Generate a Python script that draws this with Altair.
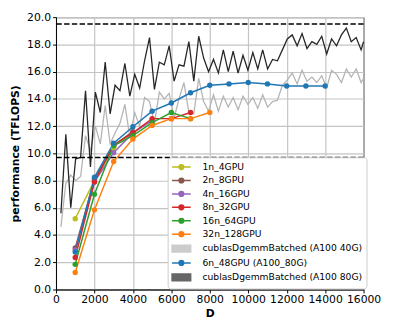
import altair as alt
import pandas as pd

# ---------------- data ----------------
D_RUNS = [1000, 2000, 3000, 4000, 5000, 6000, 7000, 8000, 9000, 10000, 11000, 12000, 13000, 14000]

perf_1n_4GPU = [5.2, 8.0, 10.4]
perf_2n_8GPU = [3.05, 8.1, 10.6, 11.6]
perf_4n_16GPU = [2.9, 7.9, 10.05, 11.5, 12.4]
perf_8n_32GPU = [2.35, 7.9, 10.6, 11.5, 12.55, 12.55, 13.0]
perf_16n_64GPU = [1.85, 7.0, 10.55, 11.3, 12.25, 13.0, 12.55]
perf_32n_128GPU = [1.25, 5.85, 9.4, 11.05, 12.05, 12.55, 12.55, 13.0]
perf_6n_48GPU = [2.75, 8.25, 10.75, 11.95, 13.1, 13.7, 14.45, 15.0, 15.1, 15.2, 15.1, 14.95, 14.95, 14.95]

D_CUBLAS = [256, 512, 768, 1024, 1280, 1536, 1792, 2048, 2304, 2560, 2816, 3072, 3328, 3584,
            3840, 4096, 4352, 4608, 4864, 5120, 5376, 5632, 5888, 6144, 6400, 6656, 6912, 7168,
            7424, 7680, 7936, 8192, 8448, 8704, 8960, 9216, 9472, 9728, 9984, 10240, 10496,
            10752, 11008, 11264, 11520, 11776, 12032, 12288, 12544, 12800, 13056, 13312, 13568,
            13824, 14080, 14336, 14592, 14848, 15104, 15360, 15616, 15872, 16000]

cublas_A100_80G = [5.6, 11.4, 6.0, 9.6, 9.7, 14.6, 9.0, 14.5, 13.0, 16.7, 12.9, 15.0, 14.6, 16.6,
                   14.2, 15.8, 14.8, 16.8, 18.5, 14.7, 16.7, 16.5, 17.9, 15.3, 16.5, 16.4, 18.2, 15.3,
                   18.6, 17.0, 16.0, 16.9, 15.9, 17.6, 16.0, 17.5, 15.9, 17.2, 16.1, 17.4, 16.2,
                   17.6, 16.2, 16.9, 16.8, 17.6, 18.4, 18.7, 17.9, 18.8, 17.7, 18.2, 18.0,
                   18.6, 17.3, 18.4, 17.9, 18.7, 19.2, 18.2, 18.5, 17.6, 18.2]

cublas_A100_40G = [4.6, 7.8, 8.4, 8.0, 8.3, 11.3, 10.2, 12.0, 10.7, 13.5, 10.7, 11.5, 12.2, 13.6,
                   11.2, 13.0, 12.0, 14.1, 13.8, 12.2, 14.5, 14.0, 14.4, 12.6, 14.0, 15.2, 13.0, 12.9,
                   15.5, 13.8, 13.1, 14.3, 13.1, 14.2, 13.4, 14.1, 13.2, 14.2, 13.6, 14.1, 13.3,
                   14.3, 13.4, 13.8, 13.9, 15.0, 15.4, 15.9, 15.1, 16.1, 15.3, 15.6, 15.2,
                   15.7, 14.8, 16.1, 15.8, 15.2, 16.2, 15.6, 16.2, 15.2, 15.5]

PEAKS = [19.5, 9.7]

X_TICKS = [0, 2000, 4000, 6000, 8000, 10000, 12000, 14000, 16000]
Y_TICKS = [0, 2, 4, 6, 8, 10, 12, 14, 16, 18, 20]

LEGEND_ORDER = ["1n_4GPU", "2n_8GPU", "4n_16GPU", "8n_32GPU", "16n_64GPU", "32n_128GPU",
                "cublasDgemmBatched (A100 40G)", "6n_48GPU (A100_80G)",
                "cublasDgemmBatched (A100 80G)"]
LEGEND_COLORS = ["#bcbd22", "#8c564b", "#9467bd", "#d62728", "#2ca02c", "#ff7f0e",
                 "#cccccc", "#1f77b4", "#666666"]

LINE_ORDER = ["cublasDgemmBatched (A100 40G)", "cublasDgemmBatched (A100 80G)",
              "1n_4GPU", "2n_8GPU", "4n_16GPU", "8n_32GPU", "16n_64GPU", "32n_128GPU",
              "6n_48GPU (A100_80G)"]
LINE_COLORS = ["#b4b4b4", "#262626", "#bcbd22", "#8c564b", "#9467bd", "#d62728", "#2ca02c",
               "#ff7f0e", "#1f77b4"]

# ---------------- tables ----------------
run_series = [
    ("1n_4GPU", perf_1n_4GPU), ("2n_8GPU", perf_2n_8GPU), ("4n_16GPU", perf_4n_16GPU),
    ("8n_32GPU", perf_8n_32GPU), ("16n_64GPU", perf_16n_64GPU), ("32n_128GPU", perf_32n_128GPU),
    ("6n_48GPU (A100_80G)", perf_6n_48GPU),
]
rows = []
for name, vals in run_series:
    for d, v in zip(D_RUNS, vals):
        rows.append({"series": name, "D": d, "perf": v})
runs = pd.DataFrame(rows)

crows = []
for name, vals in [("cublasDgemmBatched (A100 40G)", cublas_A100_40G),
                   ("cublasDgemmBatched (A100 80G)", cublas_A100_80G)]:
    for d, v in zip(D_CUBLAS, vals):
        crows.append({"series": name, "D": d, "perf": v})
cublas = pd.DataFrame(crows)

peaks = pd.DataFrame({"perf": PEAKS})
# legend-only rows: no D / perf values, so the marks are dropped as invalid
legend_df = pd.DataFrame({"series": LEGEND_ORDER, "D": [None] * len(LEGEND_ORDER),
                          "perf": [None] * len(LEGEND_ORDER)})

# ---------------- encodings ----------------
FONT = "DejaVu Sans"
x_enc = alt.X("D:Q", scale=alt.Scale(domain=[0, 16000], nice=False, zero=False),
              axis=alt.Axis(values=X_TICKS, format="d", title="D", labelOverlap=False,
                            labelFlush=False))
y_enc = alt.Y("perf:Q", scale=alt.Scale(domain=[0, 20], nice=False),
              axis=alt.Axis(values=Y_TICKS, format=".1f", title="performance (TFLOPS)",
                            labelOverlap=False))
color_scale = alt.Scale(domain=LINE_ORDER, range=LINE_COLORS)

# legend symbol paths (unit box scaled by sqrt(symbolSize)/2 = 5 px)
LINE_SYM = "M-1.9,0H1.9M-0.48,0A0.48,0.48,0,1,0,0.48,0A0.48,0.48,0,1,0,-0.48,0Z"
RECT_SYM = "M-1.9,-0.7H1.9V0.7H-1.9Z"
SHAPES = [LINE_SYM] * 6 + [RECT_SYM, LINE_SYM, RECT_SYM]

cublas_lines = alt.Chart(cublas).mark_line(strokeWidth=1.3).encode(
    x=x_enc, y=y_enc,
    color=alt.Color("series:N", scale=color_scale, legend=None),
)

run_lines = alt.Chart(runs).mark_line(strokeWidth=1.5).encode(
    x=x_enc, y=y_enc,
    color=alt.Color("series:N", scale=color_scale, legend=None),
)

run_points = alt.Chart(runs).mark_point(filled=True, size=30, opacity=1).encode(
    x=x_enc, y=y_enc,
    color=alt.Color("series:N", scale=color_scale, legend=None),
)

peak_rules = alt.Chart(peaks).mark_rule(color="black", strokeWidth=1.5, strokeDash=[5.5, 2.4]).encode(
    y=y_enc,
)

leg = alt.Legend(title=None, orient="none", legendX=114, legendY=143, symbolSize=100,
                 symbolStrokeWidth=1.5, labelFontSize=9.4, labelFont=FONT,
                 fillColor="white", strokeColor="#cccccc", cornerRadius=3, padding=4,
                 labelLimit=0, rowPadding=1.7, labelOffset=15.5, symbolOffset=4)

legend_layer = alt.Chart(legend_df).mark_point(size=30, opacity=1, strokeWidth=1.5).encode(
    x=x_enc, y=y_enc,
    fill=alt.Fill("series:N", scale=alt.Scale(domain=LEGEND_ORDER, range=LEGEND_COLORS), legend=leg),
    stroke=alt.Stroke("series:N", scale=alt.Scale(domain=LEGEND_ORDER, range=LEGEND_COLORS), legend=leg),
    shape=alt.Shape("series:N", scale=alt.Scale(domain=LEGEND_ORDER, range=SHAPES), legend=leg),
)

chart = alt.layer(cublas_lines, run_lines, run_points, peak_rules, legend_layer).properties(
    width=314, height=278,
    autosize=alt.AutoSizeParams(type="none"),
    padding={"left": 49, "top": 6, "right": 28, "bottom": 40},
).configure_view(stroke="black", strokeWidth=1).configure_axis(
    grid=True, gridColor="#c4c4c4", gridWidth=1.2,
    domainColor="black", domainWidth=1, tickColor="black", tickSize=3.5,
    labelFontSize=11, labelColor="black", labelFont=FONT, labelPadding=2,
    titleFontSize=11, titleFontWeight="bold", titleFont=FONT, titleColor="black",
).configure_axisX(labelPadding=1, titlePadding=3).configure_axisY(titlePadding=6)

chart.save("out.html", embed_options={"renderer": "svg", "actions": False})
